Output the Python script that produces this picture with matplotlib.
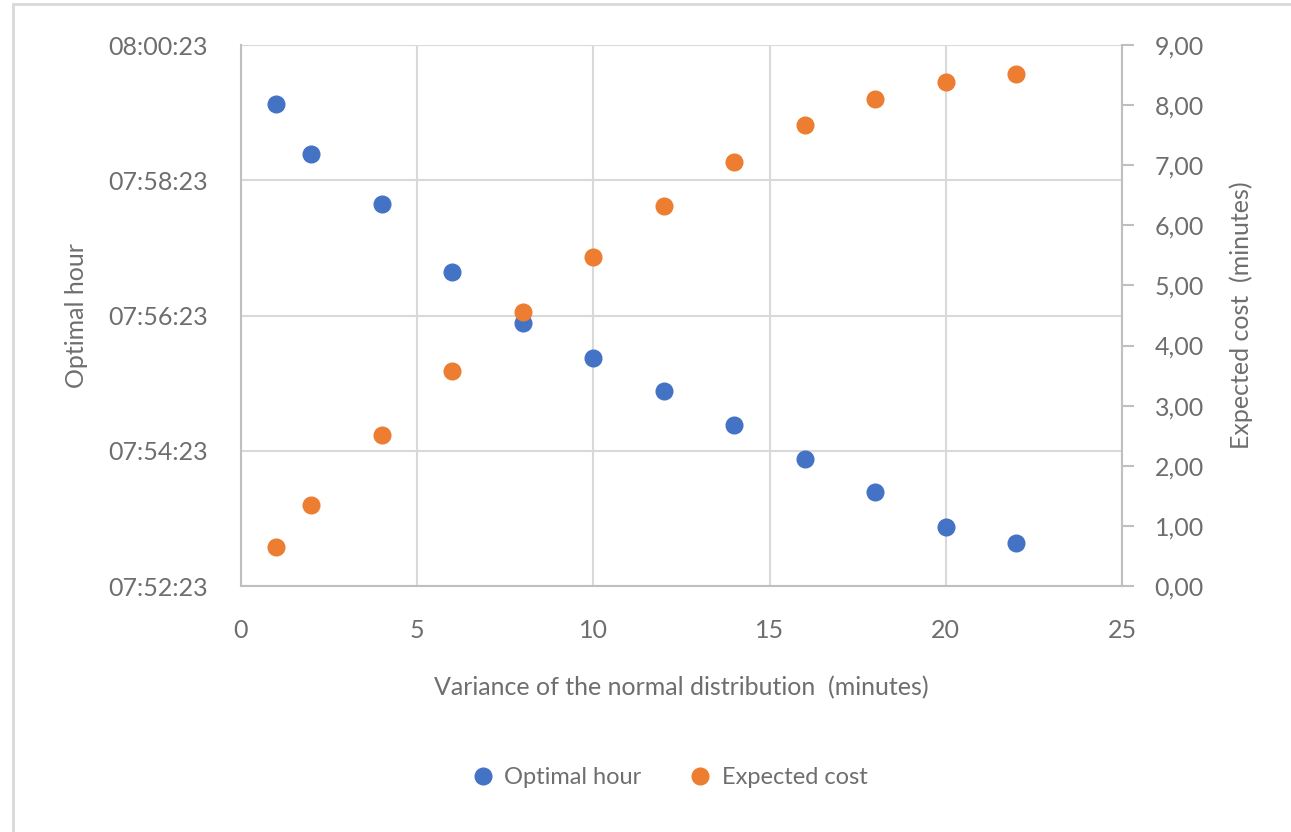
import matplotlib
matplotlib.use("Agg")
import matplotlib.pyplot as plt
from matplotlib.ticker import FuncFormatter, MultipleLocator, FixedLocator
from matplotlib.patches import Rectangle

# ---- data ----
variance = [1, 2, 4, 6, 8, 10, 12, 14, 16, 18, 20, 22]
optimal_hour = ["07:59:31", "07:58:46", "07:58:02", "07:57:02", "07:56:16", "07:55:45",
                "07:55:16", "07:54:46", "07:54:16", "07:53:46", "07:53:15", "07:53:01"]
expected_cost = [0.65, 1.35, 2.51, 3.58, 4.56, 5.47, 6.32, 7.05, 7.67, 8.10, 8.39, 8.52]
left_ticks = ["07:52:23", "07:54:23", "07:56:23", "07:58:23", "08:00:23"]
x_label = "Variance of the normal distribution  (minutes)"
y_left_label = "Optimal hour"
y_right_label = "Expected cost  (minutes)"


def to_sec(s):
    h, m, sec = map(int, s.split(":"))
    return h * 3600 + m * 60 + sec


def fmt_time(v, pos=None):
    v = int(round(v))
    return f"{v // 3600:02d}:{(v % 3600) // 60:02d}:{v % 60:02d}"


plt.rcParams['font.family'] = ['Lato', 'DejaVu Sans']
WEIGHT = "normal"
TXT = "#6E6E6E"
GRID = "#D9D9D9"
SPINE = "#BFBFBF"
BLUE = "#4472C4"
ORANGE = "#ED7D31"
FS = 18

fig = plt.figure(figsize=(12.91, 8.32), dpi=100)
fig.patches.append(Rectangle((13 / 1291, -0.05), 1.2, 1.05 - 4 / 832, transform=fig.transFigure,
                             fill=False, edgecolor=GRID, lw=2, zorder=0))

ax = fig.add_axes([241 / 1291, 1 - 586 / 832, (1122 - 241) / 1291, (586 - 45) / 832])
ax.set_facecolor("none")
y_sec = [to_sec(t) for t in optimal_hour]
ax.plot(variance, y_sec, linestyle="none", marker="o", markersize=12, color=BLUE,
        label="Optimal hour", zorder=3)
ax.set_xlim(0, 25)
ax.set_ylim(to_sec(left_ticks[0]), to_sec(left_ticks[-1]))
ax.xaxis.set_major_locator(MultipleLocator(5))
ax.yaxis.set_major_locator(FixedLocator([to_sec(t) for t in left_ticks]))
ax.yaxis.set_major_formatter(FuncFormatter(fmt_time))
ax.grid(True, color=GRID, lw=1.5, zorder=0)
ax.set_axisbelow(True)
for s in ["top", "right"]:
    ax.spines[s].set_visible(False)
for s in ["left", "bottom"]:
    ax.spines[s].set_color(SPINE)
    ax.spines[s].set_linewidth(1.5)
ax.tick_params(axis="both", length=0, labelsize=FS, labelcolor=TXT, pad=24)
ax.set_xlabel(x_label, fontsize=FS, color=TXT, labelpad=24, fontweight=WEIGHT)
ax.set_ylabel(y_left_label, fontsize=FS, color=TXT, labelpad=14, fontweight=WEIGHT)

ax2 = ax.twinx()
ax2.plot(variance, expected_cost, linestyle="none", marker="o", markersize=12, color=ORANGE,
         label="Expected cost", zorder=3)
ax2.set_ylim(0, 9)
ax2.yaxis.set_major_locator(MultipleLocator(1))
ax2.yaxis.set_major_formatter(FuncFormatter(lambda v, p: f"{v:.2f}".replace(".", ",")))
for s in ["top", "left", "bottom"]:
    ax2.spines[s].set_visible(False)
ax2.spines["right"].set_color(SPINE)
ax2.spines["right"].set_linewidth(1.5)
ax2.tick_params(axis="y", length=8.5, width=1.5, color=SPINE, labelsize=FS, labelcolor=TXT, pad=15)
ax2.set_ylabel(y_right_label, fontsize=FS, color=TXT, labelpad=18, fontweight=WEIGHT)

h1, l1 = ax.get_legend_handles_labels()
h2, l2 = ax2.get_legend_handles_labels()
leg = fig.legend(h1 + h2, l1 + l2, loc="center", bbox_to_anchor=(668 / 1291, 1 - 778 / 832),
                 ncol=2, frameon=False, prop={"size": FS - 1, "weight": WEIGHT}, labelcolor=TXT,
                 handletextpad=0.3, columnspacing=1.9, handlelength=1.2)

fig.savefig("out.png", dpi=100)
